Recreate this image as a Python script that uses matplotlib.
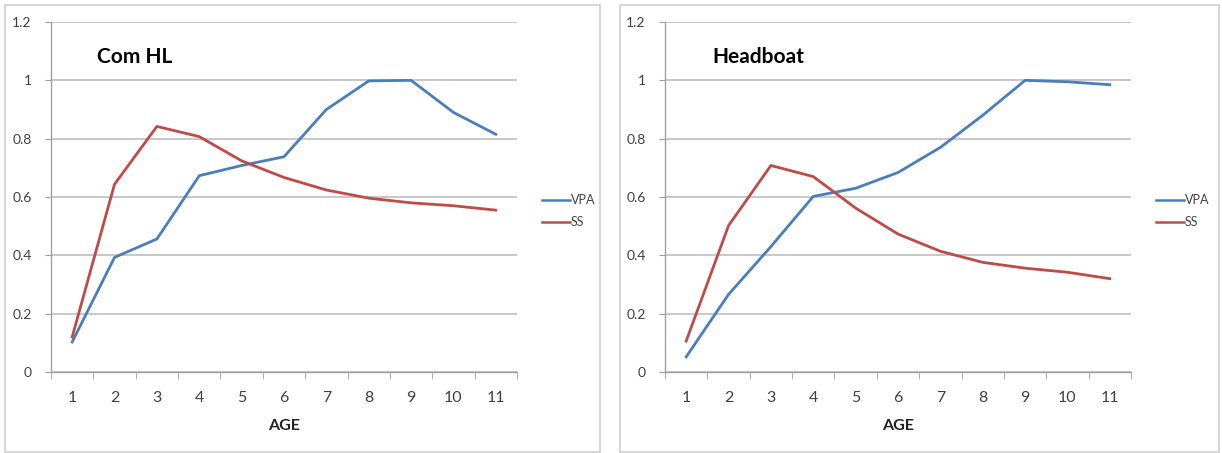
import matplotlib
matplotlib.use("Agg")
import matplotlib.pyplot as plt
from matplotlib.patches import Rectangle

plt.rcParams['font.family'] = ['Lato', 'DejaVu Sans']

ages = list(range(1, 12))
titles = ["Com HL", "Headboat"]
vpa_comhl = [0.103, 0.393, 0.456, 0.673, 0.708, 0.738, 0.900, 0.998, 1.000, 0.890, 0.815]
ss_comhl = [0.120, 0.644, 0.842, 0.807, 0.724, 0.667, 0.624, 0.596, 0.580, 0.570, 0.555]
vpa_head = [0.052, 0.266, 0.430, 0.602, 0.630, 0.684, 0.770, 0.880, 1.000, 0.995, 0.985]
ss_head = [0.106, 0.502, 0.708, 0.670, 0.562, 0.473, 0.414, 0.376, 0.356, 0.342, 0.320]
yticks = [0, 0.2, 0.4, 0.6, 0.8, 1, 1.2]
ytick_labels = ["0", "0.2", "0.4", "0.6", "0.8", "1", "1.2"]

BLUE = "#4A7EBB"
RED = "#BE4B48"
GRID = "#BFBFBF"
TXT = "#404040"

W, H = 1222, 453
fig = plt.figure(figsize=(W / 100, H / 100), dpi=100)

# panel borders
for x0, x1 in [(5, 600), (620, 1219)]:
    fig.patches.append(Rectangle((x0 / W, 1 - 452 / H), (x1 - x0) / W, (452 - 5) / H,
                                 transform=fig.transFigure, fill=False,
                                 edgecolor="#D0D0D0", linewidth=1.2))

panels = [(51, titles[0], vpa_comhl, ss_comhl, 97),
          (665, titles[1], vpa_head, ss_head, 712)]

for ax_x, title, vpa, ss, tx in panels:
    ax = fig.add_axes([ax_x / W, 1 - 372 / H, 466 / W, 350 / H])
    ax.plot(ages, vpa, color=BLUE, lw=2, label="VPA")
    ax.plot(ages, ss, color=RED, lw=2, label="SS")
    ax.set_xlim(0.5, 11.5)
    ax.set_ylim(0, 1.2)
    ax.set_yticks(yticks)
    ax.set_yticklabels(ytick_labels)
    ax.yaxis.grid(True, color=GRID, lw=1.2)
    ax.set_axisbelow(True)
    for s in ["top", "right"]:
        ax.spines[s].set_visible(False)
    for s in ["left", "bottom"]:
        ax.spines[s].set_color("#A0A0A0")
        ax.spines[s].set_linewidth(1.0)
    # category axis: labels at centers, tick marks at boundaries
    ax.set_xticks(ages)
    ax.set_xticklabels([str(a) for a in ages])
    ax.set_xticks([a + 0.5 for a in [0] + ages], minor=True)
    ax.tick_params(axis="x", which="major", length=0, pad=14, labelsize=11.5, labelcolor=TXT)
    ax.tick_params(axis="x", which="minor", length=5, color="#A0A0A0", direction="out")
    ax.tick_params(axis="y", length=4, color="#A0A0A0", pad=10, labelsize=10, labelcolor=TXT)
    ax.set_xlabel("AGE", fontsize=11.5, fontweight="bold", color="#222222", labelpad=10)
    fig.text(tx / W, 1 - 57 / H, title, fontsize=15, fontweight="bold", va="center", ha="left")
    leg = ax.legend(loc="center left", bbox_to_anchor=(1.03, 0.46), frameon=False,
                    fontsize=9, handlelength=2.2, handletextpad=0.1, labelspacing=0.8)
    for line in leg.get_lines():
        line.set_linewidth(1.8)
    for t in leg.get_texts():
        t.set_color(TXT)

fig.savefig("out.png", dpi=100)
